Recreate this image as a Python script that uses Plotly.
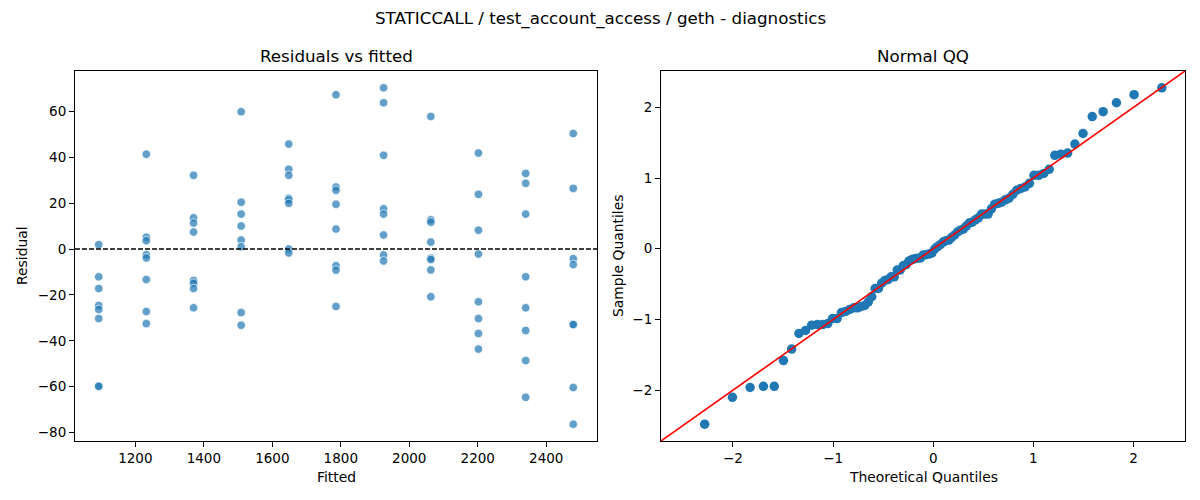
from statistics import NormalDist, mean, pstdev
import plotly.graph_objects as go

# fitted value of each group and the residuals
fitted_levels = [1093, 1232, 1370, 1509, 1648, 1786, 1925, 2063, 2202, 2340, 2479]
residuals_by_level = [
    [1.9, -12.1, -17.2, -24.6, -26.3, -30.3, -59.8, -59.8],
    [41.3, 5.1, 3.6, -2.5, -3.9, -13.3, -27.2, -32.5],
    [32.1, 13.6, 11.3, 7.4, -13.7, -14.9, -17.2, -25.6],
    [59.8, 20.4, 15.2, 10.0, 3.9, 1.0, -27.7, -33.2],
    [45.7, 34.7, 32.1, 22.1, 21.4, 19.9, 0.0, -1.7],
    [67.2, 27.0, 25.6, 19.5, 8.7, -7.3, -9.2, -25.0],
    [70.2, 63.7, 40.8, 17.5, 15.2, 6.1, -2.6, -5.2],
    [57.7, 12.7, 11.7, 3.0, -4.0, -4.6, -9.1, -20.8],
    [41.8, 23.8, 8.2, -2.2, -23.0, -30.3, -36.8, -43.6],
    [32.9, 28.6, 15.2, -12.1, -25.6, -35.5, -48.6, -64.6],
    [50.3, 26.4, -4.2, -6.8, -32.9, -32.9, -60.3, -76.3],
]
left_xticks = [1200, 1400, 1600, 1800, 2000, 2200, 2400]
left_yticks = [-80, -60, -40, -20, 0, 20, 40, 60]
right_ticks = [-2, -1, 0, 1, 2]

fitted = []
resid = []
for lvl, vals in zip(fitted_levels, residuals_by_level):
    for v in vals:
        fitted.append(lvl)
        resid.append(v)

# normal QQ of the standardised residuals
m, s = mean(resid), pstdev(resid)
sample_q = sorted((r - m) / s for r in resid)
n = len(sample_q)
theo_q = [NormalDist().inv_cdf(i / (n + 1)) for i in range(1, n + 1)]


def pad(lo, hi, frac=0.05):
    d = (hi - lo) * frac
    return [lo - d, hi + d]


xr = pad(min(theo_q), max(theo_q))
yr = pad(min(sample_q), max(sample_q))
qq_lim = [min(xr[0], yr[0]), max(xr[1], yr[1])]

FONT = "DejaVu Sans"
fig = go.Figure()

fig.add_trace(go.Scatter(x=fitted, y=resid, mode="markers",
                         marker=dict(size=8.5, color="rgba(31,119,180,0.7)",
                                     line=dict(color="white", width=0.7)),
                         xaxis="x", yaxis="y", showlegend=False))

fig.add_trace(go.Scatter(x=theo_q, y=sample_q, mode="markers",
                         marker=dict(size=9.5, color="#1f77b4", line=dict(width=0)),
                         xaxis="x2", yaxis="y2", showlegend=False))

fig.add_trace(go.Scatter(x=qq_lim, y=qq_lim, mode="lines",
                         line=dict(color="red", width=1.6),
                         xaxis="x2", yaxis="y2", showlegend=False))

fig.add_shape(type="line", xref="x domain", yref="y", x0=0, x1=1, y0=0, y1=0,
              line=dict(color="black", width=1.3, dash="5px,2px"))

axis_style = dict(showgrid=False, zeroline=False, showline=True, mirror=True,
                  linecolor="black", linewidth=1.1, ticks="outside", ticklen=5,
                  tickcolor="black", tickwidth=1.1, automargin=False,
                  tickfont=dict(family=FONT, size=13.5, color="black"))

fig.update_layout(
    width=1200, height=500,
    margin=dict(l=0, r=0, t=0, b=0),
    paper_bgcolor="white", plot_bgcolor="white",
    font=dict(family=FONT, color="black"),
    xaxis=dict(domain=[75 / 1200, 597 / 1200], anchor="y",
               range=pad(min(fitted), max(fitted)), tickvals=left_xticks, **axis_style),
    yaxis=dict(domain=[59 / 500, 429 / 500], anchor="x",
               range=pad(min(resid), max(resid)), tickvals=left_yticks, **axis_style),
    xaxis2=dict(domain=[661 / 1200, 1185 / 1200], anchor="y2",
                range=qq_lim, tickvals=right_ticks, **axis_style),
    yaxis2=dict(domain=[59 / 500, 429 / 500], anchor="x2",
                range=qq_lim, tickvals=right_ticks, **axis_style),
)

annotations = [
    dict(text="STATICCALL / test_account_access / geth - diagnostics", x=0.5, y=1 - 18 / 500, size=16.7),
    dict(text="Residuals vs fitted", x=336 / 1200, y=1 - 56 / 500, size=16.7),
    dict(text="Normal QQ", x=923 / 1200, y=1 - 56 / 500, size=16.7),
    dict(text="Fitted", x=336 / 1200, y=1 - 477 / 500, size=13.9),
    dict(text="Theoretical Quantiles", x=923 / 1200, y=1 - 477 / 500, size=13.9),
    dict(text="Residual", x=22 / 1200, y=1 - 256 / 500, size=13.9, angle=-90),
    dict(text="Sample Quantiles", x=618 / 1200, y=1 - 256 / 500, size=13.9, angle=-90),
]
for a in annotations:
    fig.add_annotation(text=a["text"], x=a["x"], y=a["y"], xref="paper", yref="paper",
                       xanchor="center", yanchor="middle", showarrow=False,
                       textangle=a.get("angle", 0),
                       font=dict(family=FONT, size=a["size"], color="black"))

# drop the default page margin so the figure sits at the window corner
fig.write_html("out.html", config={"displayModeBar": False},
               post_script="document.body.style.margin = '0';")
